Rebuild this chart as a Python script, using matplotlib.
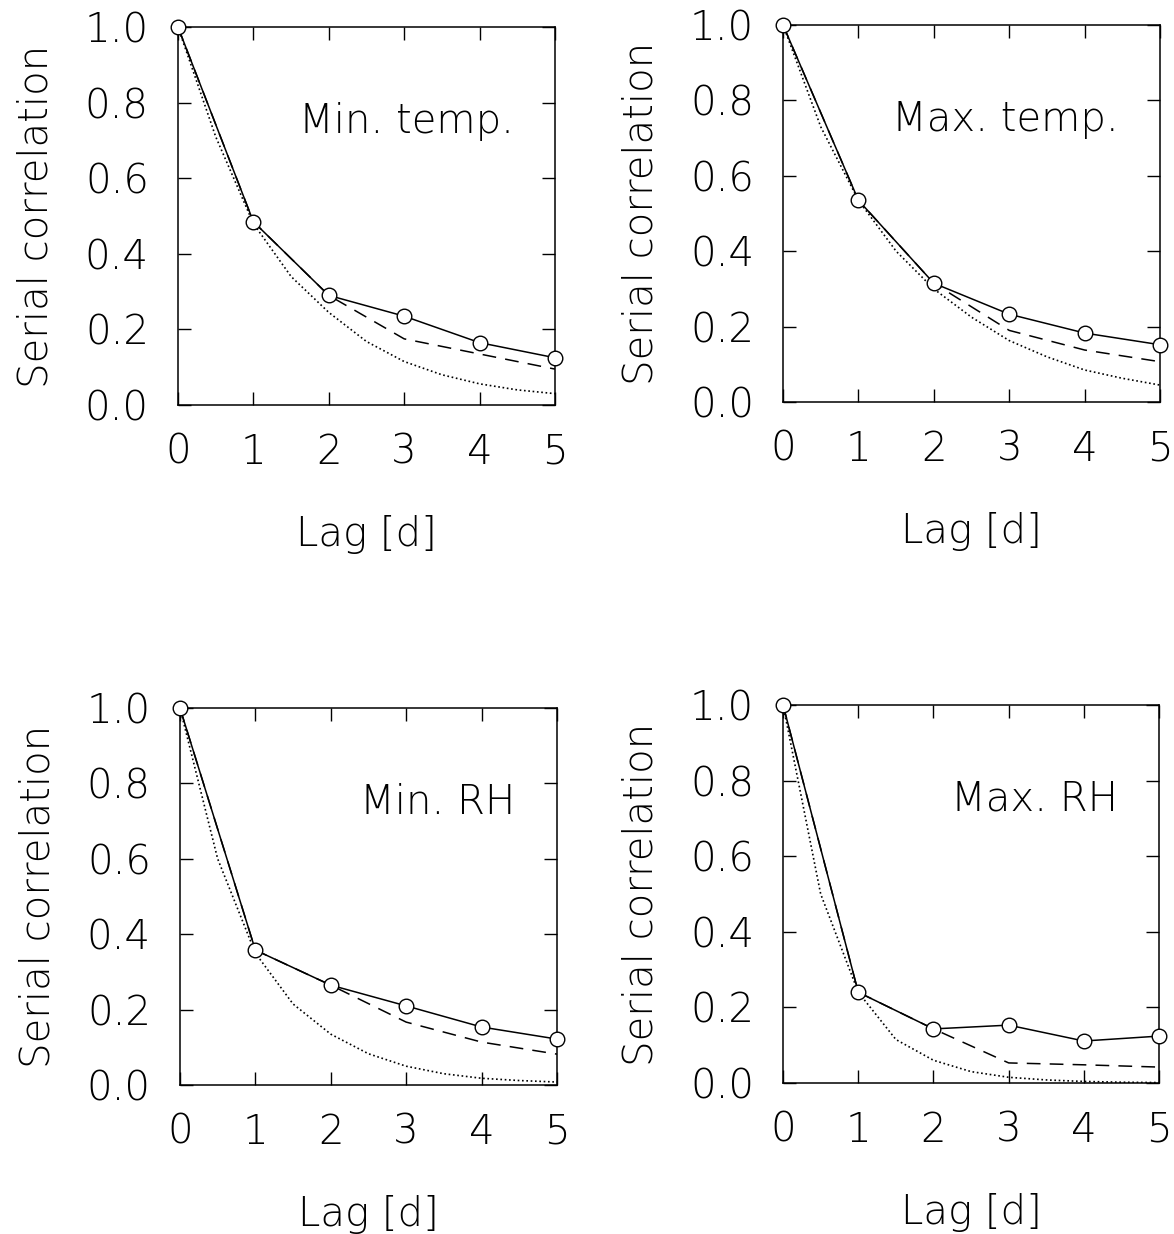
import matplotlib
matplotlib.use('Agg')
import matplotlib.pyplot as plt

plt.rcParams['font.family'] = ['DejaVu Sans']

lags = [0, 1, 2, 3, 4, 5]
fine_lags = [0, 0.5, 1, 1.5, 2, 2.5, 3, 3.5, 4, 4.5, 5]

titles = ['Min. temp.', 'Max. temp.', 'Min. RH', 'Max. RH']

# observed serial correlation (solid with circles)
observed = [
    [1.0, 0.485, 0.29, 0.235, 0.165, 0.125],
    [1.0, 0.535, 0.315, 0.233, 0.183, 0.152],
    [1.0, 0.358, 0.265, 0.21, 0.154, 0.122],
    [1.0, 0.24, 0.143, 0.153, 0.111, 0.124],
]

# dashed model
dashed = [
    [1.0, 0.485, 0.29, 0.175, 0.135, 0.095],
    [1.0, 0.535, 0.315, 0.19, 0.138, 0.107],
    [1.0, 0.358, 0.265, 0.167, 0.114, 0.082],
    [1.0, 0.24, 0.143, 0.053, 0.048, 0.042],
]

# dotted model, read at half-day steps
dotted = [
    [1.0, 0.71, 0.48, 0.34, 0.245, 0.168, 0.115, 0.08, 0.056, 0.04, 0.03],
    [1.0, 0.73, 0.535, 0.40, 0.30, 0.225, 0.163, 0.12, 0.085, 0.063, 0.045],
    [1.0, 0.60, 0.35, 0.215, 0.135, 0.083, 0.05, 0.03, 0.018, 0.012, 0.008],
    [1.0, 0.50, 0.24, 0.115, 0.06, 0.03, 0.015, 0.008, 0.004, 0.002, 0.001],
]

positions = [
    [0.1516, 0.6718, 0.3211, 0.3063],
    [0.6670, 0.6742, 0.3211, 0.3055],
    [0.1533, 0.1207, 0.3211, 0.3055],
    [0.6670, 0.1224, 0.3203, 0.3063],
]

fig = plt.figure(figsize=(11.74, 12.34), dpi=100)

for i in range(4):
    ax = fig.add_axes(positions[i])
    ax.plot(fine_lags, dotted[i], color='black', lw=1.2, linestyle=(0, (1, 1.6)))
    ax.plot(lags, dashed[i], color='black', lw=1.1, linestyle=(0, (9, 6)))
    ax.plot(lags, observed[i], color='black', lw=1.1, marker='o', markersize=10.5,
            markerfacecolor='white', markeredgecolor='black', markeredgewidth=1.0,
            clip_on=False, zorder=5)
    ax.set_xlim(0, 5)
    ax.set_ylim(0, 1)
    ax.set_xticks(lags)
    ax.set_yticks([0.0, 0.2, 0.4, 0.6, 0.8, 1.0])
    ax.set_yticklabels(['0.0', '0.2', '0.4', '0.6', '0.8', '1.0'])
    ax.tick_params(direction='in', length=9.5, width=1.0, top=True, right=True,
                   labelsize=29)
    ax.tick_params(axis='x', pad=20)
    ax.tick_params(axis='y', pad=21)
    for lbl in ax.get_xticklabels() + ax.get_yticklabels():
        lbl.set_fontweight('light')
    for sp in ax.spines.values():
        sp.set_linewidth(1.1)
    ax.set_xlabel('Lag [d]', fontsize=29, fontweight='light', labelpad=31)
    ax.set_ylabel('Serial correlation', fontsize=29, fontweight='light', labelpad=21)
    ax.text(4.45, 0.75, titles[i], ha='right', va='center', fontsize=29,
            fontweight='light')

fig.savefig('out.png', dpi=100)
